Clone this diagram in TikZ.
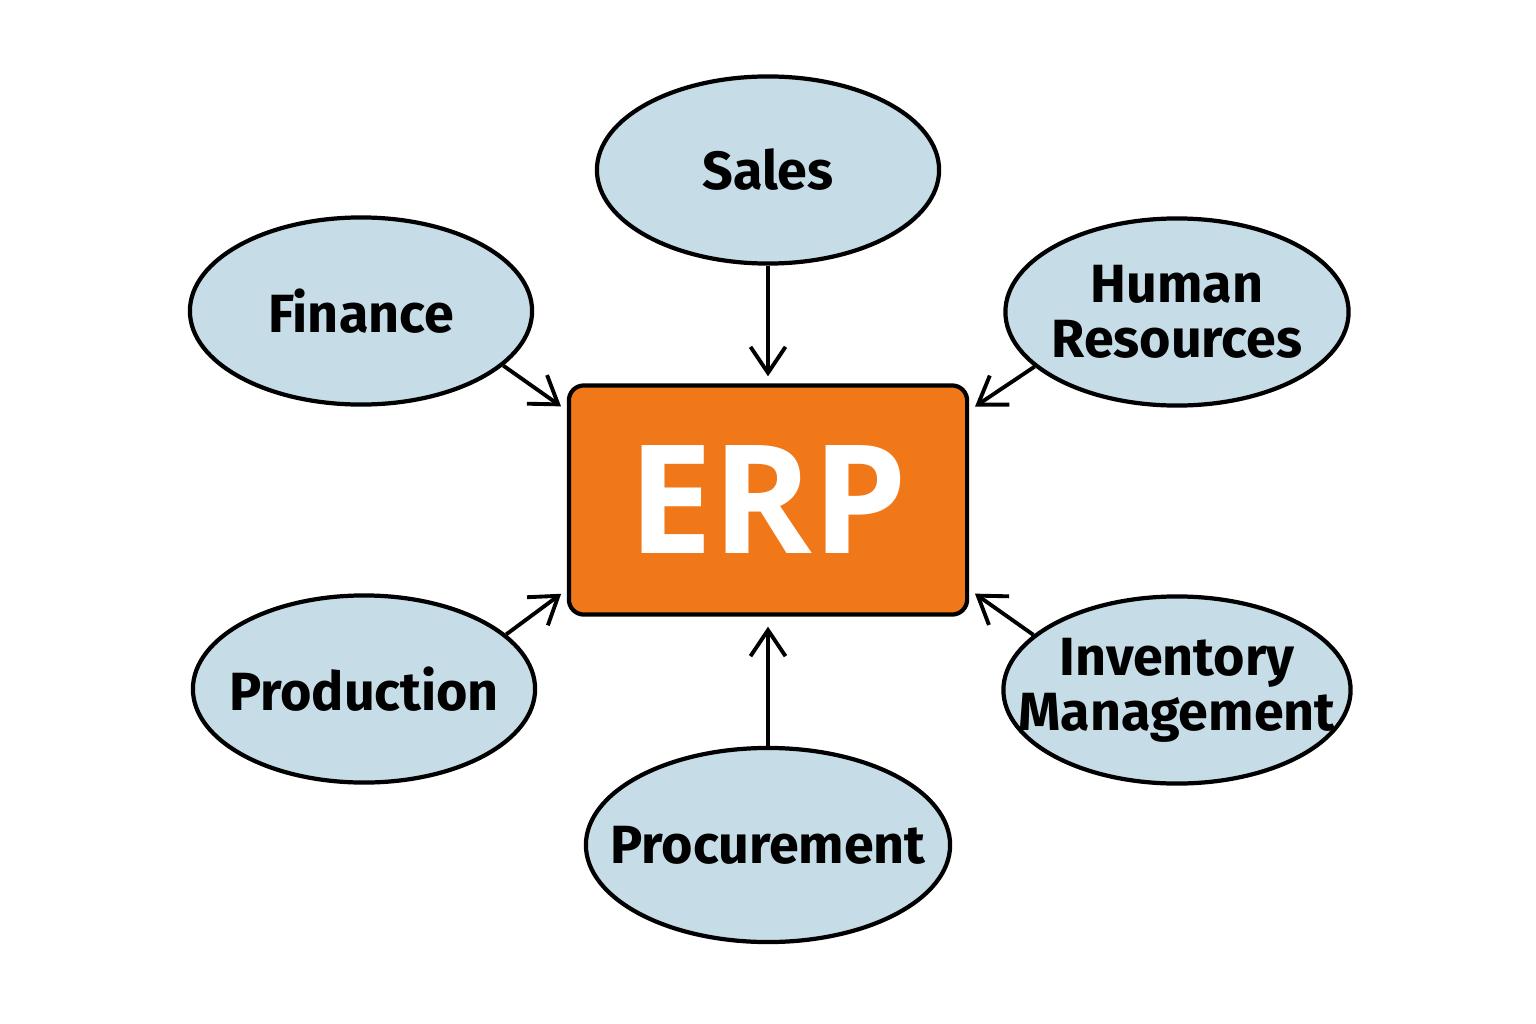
\documentclass[tikz,border=0pt]{standalone}
\usepackage{fontspec}
\setmainfont{Fira Sans}
\newfontfamily\erpfont{Open Sans}
\usetikzlibrary{shapes.geometric,arrows.meta}
\definecolor{modblue}{HTML}{C6DCE6}
\definecolor{erporange}{HTML}{F07819}
\tikzset{
  modulo/.style={ellipse,draw=black,line width=1.2pt,fill=modblue,inner xsep=-0.4cm,inner ysep=0pt,
    minimum width=3.42cm,minimum height=1.87cm,align=center,
    font=\fontsize{15.3}{15.6}\selectfont\bfseries},
  freccia/.style={-{Straight Barb[length=2.6mm,width=3.5mm]},line width=1.1pt,shorten >=0.07cm}
}
\begin{document}
\begin{tikzpicture}[x=0.01cm,y=-0.01cm]
        \useasboundingbox (0,0) rectangle (1536,1024);
        %blocco centrale
        \node[draw=black,line width=1.2pt,fill=erporange,rounded corners=0.15cm,
          minimum width=3.98cm,minimum height=2.29cm,text=white,
          font=\erpfont\fontsize{43}{43}\selectfont\bfseries] (erp) at (768,500) {ERP};
        %moduli intorno
        \node[modulo] (sales) at (768,170) {Sales};
        \node[modulo] (finance) at (361,311) {Finance};
        \node[modulo,minimum width=3.43cm] (hr) at (1177,312) {Human\\Resources};
        \node[modulo] (production) at (364,689) {Production};
        \node[modulo,minimum width=3.47cm] (inventory) at (1177,690) {Inventory\\Management};
        \node[modulo,minimum width=3.64cm,minimum height=1.94cm] (procurement) at (768,845) {Procurement};
        %frecce verso ERP
        \draw[freccia] (sales) -- (erp);
        \draw[freccia] (finance.-21) -- (erp.156);
        \draw[freccia] (hr.201) -- (erp.24);
        \draw[freccia] (production.21) -- (erp.204);
        \draw[freccia] (inventory.159) -- (erp.-24);
        \draw[freccia,shorten >=0.1cm] (procurement) -- (erp);
\end{tikzpicture}
\end{document}
